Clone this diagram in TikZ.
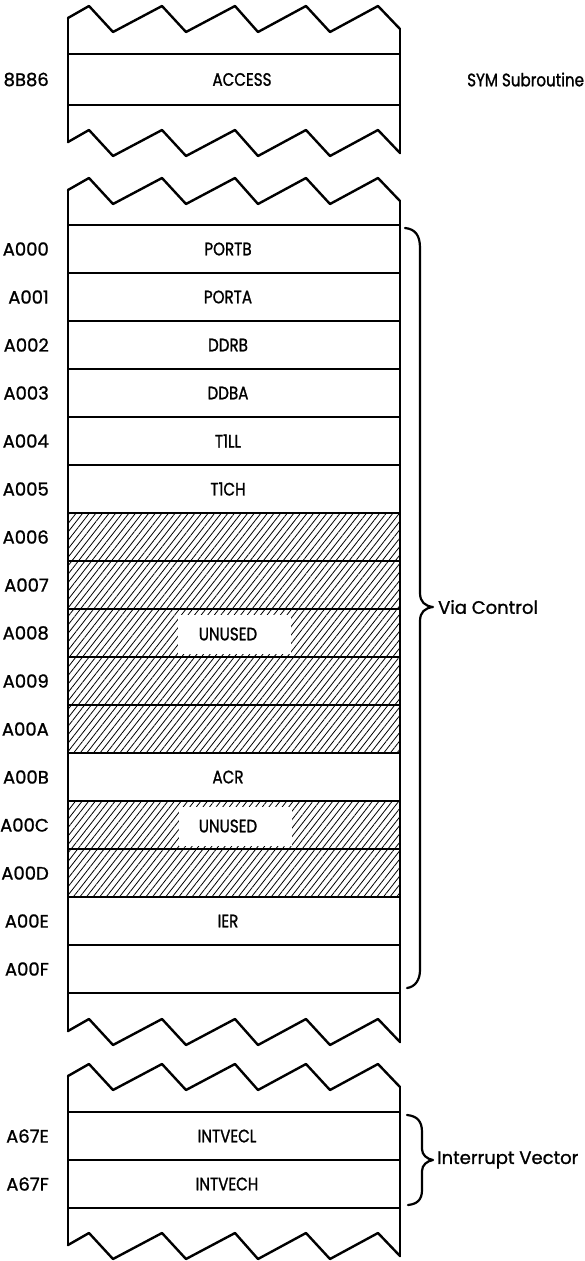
\documentclass[tikz,border=0pt]{standalone}
\usepackage{fontspec}
\setmainfont{Poppins}[FakeBold=1.2]
\newfontfamily\narrowfont{Poppins}[FakeStretch=0.84,FakeBold=1.2]
\usetikzlibrary{patterns.meta}
\newcommand{\zigline}[1]{(68,{#1+12}) -- (89,#1) -- (113,{#1+26}) -- (162,#1) -- (186,{#1+26}) -- (235,#1) -- (258,{#1+26}) -- (306,#1) -- (330,{#1+26}) -- (378,#1) -- (400,{#1+23})}
\tikzset{
  rowbox/.style={draw, line width=2pt, minimum width=332pt, inner sep=0pt},
  hatchbox/.style={rowbox, pattern={Lines[angle=52,distance=5.2pt,line width=0.8pt]}},
  txt/.style={font=\fontsize{18}{20}\selectfont, inner sep=0pt},
  cell/.style={font=\narrowfont\fontsize{18}{20}\selectfont, inner sep=0pt},
  addr/.style={txt, anchor=east},
  side/.style={line width=2.8pt, line cap=round},
  zig/.style={line width=2.4pt, line join=round, line cap=round},
  whitebox/.style={fill=white, minimum width=113pt, minimum height=39pt, inner sep=0pt},
  bracepath/.style={line width=2.2pt, line cap=round, line join=round}
}
\begin{document}
\begin{tikzpicture}[x=1pt,y=-1pt]
\useasboundingbox (0,0) rectangle (584,1261);
% ---------- block 1 ----------
\draw[zig] \zigline{6};
\draw[zig] \zigline{130};
\node[rowbox, minimum height=51pt] (acc) at (234,79.5) {};
\draw[side] (68,18) -- (68,142);
\draw[side] (400,29) -- (400,153);
\node[addr] (a8b86) at (49,79.5) {8B86};
\node[cell] (lacc) at (242,79.5) {ACCESS};
\node[cell, anchor=west] (sym) at (467,79.5) {SYM Subroutine};
% ---------- block 2 ----------
\draw[zig] \zigline{178};
\draw[zig] \zigline{1019};
\foreach \i/\ad/\lab in {0/A000/PORTB, 1/A001/PORTA, 2/A002/DDRB, 3/A003/DDBA, 4/A004/T1LL, 5/A005/T1CH, 6/A006/, 7/A007/, 8/A008/, 9/A009/, 10/A00A/, 11/A00B/ACR, 12/A00C/, 13/A00D/, 14/A00E/IER, 15/A00F/}{
  \node[rowbox, minimum height=48pt] (r\i) at (234,{249+48*\i}) {};
  \node[addr] (a\i) at (49,{249+48*\i}) {\ad};
  \node[cell] (l\i) at (228,{249+48*\i}) {\lab};
}
\foreach \i in {6,7,8,9,10,12,13}{
  \node[hatchbox, minimum height=48pt] (h\i) at (234,{249+48*\i}) {};
}
\node[whitebox] (w8) at (234.5,634) {};
\node[cell] (u8) at (228,634) {UNUSED};
\node[whitebox] (w12) at (235,826) {};
\node[cell] (u12) at (228,826) {UNUSED};
\draw[side] (68,190) -- (68,1031);
\draw[side] (400,201) -- (400,1042);
\draw[bracepath] (405,228) .. controls (415,229) and (420,235) .. (420,248) -- (420,593) .. controls (420,602) and (425,606) .. (433,607) .. controls (425,608) and (420,612) .. (420,621) -- (420,970) .. controls (420,980) and (415,987) .. (407,988);
\node[txt, anchor=west] (via) at (438,607) {Via Control};
% ---------- block 3 ----------
\draw[zig] \zigline{1064};
\draw[zig] \zigline{1233};
\node[rowbox, minimum height=48pt] (i0) at (234,1136) {};
\node[rowbox, minimum height=48pt] (i1) at (234,1184) {};
\node[addr] (ai0) at (49,1136) {A67E};
\node[addr] (ai1) at (49,1184) {A67F};
\node[cell] (li0) at (227,1136) {INTVECL};
\node[cell] (li1) at (227,1184) {INTVECH};
\draw[side] (68,1076) -- (68,1245);
\draw[side] (400,1087) -- (400,1256);
\draw[bracepath] (407,1115) .. controls (417,1116) and (422,1121) .. (422,1132) -- (422,1149) .. controls (422,1155) and (427,1159) .. (433,1160) .. controls (427,1161) and (422,1165) .. (422,1171) -- (422,1190) .. controls (422,1200) and (417,1204) .. (408,1205);
\node[txt, anchor=west] (iv) at (437,1160) {Interrupt Vector};
\end{tikzpicture}
\end{document}
